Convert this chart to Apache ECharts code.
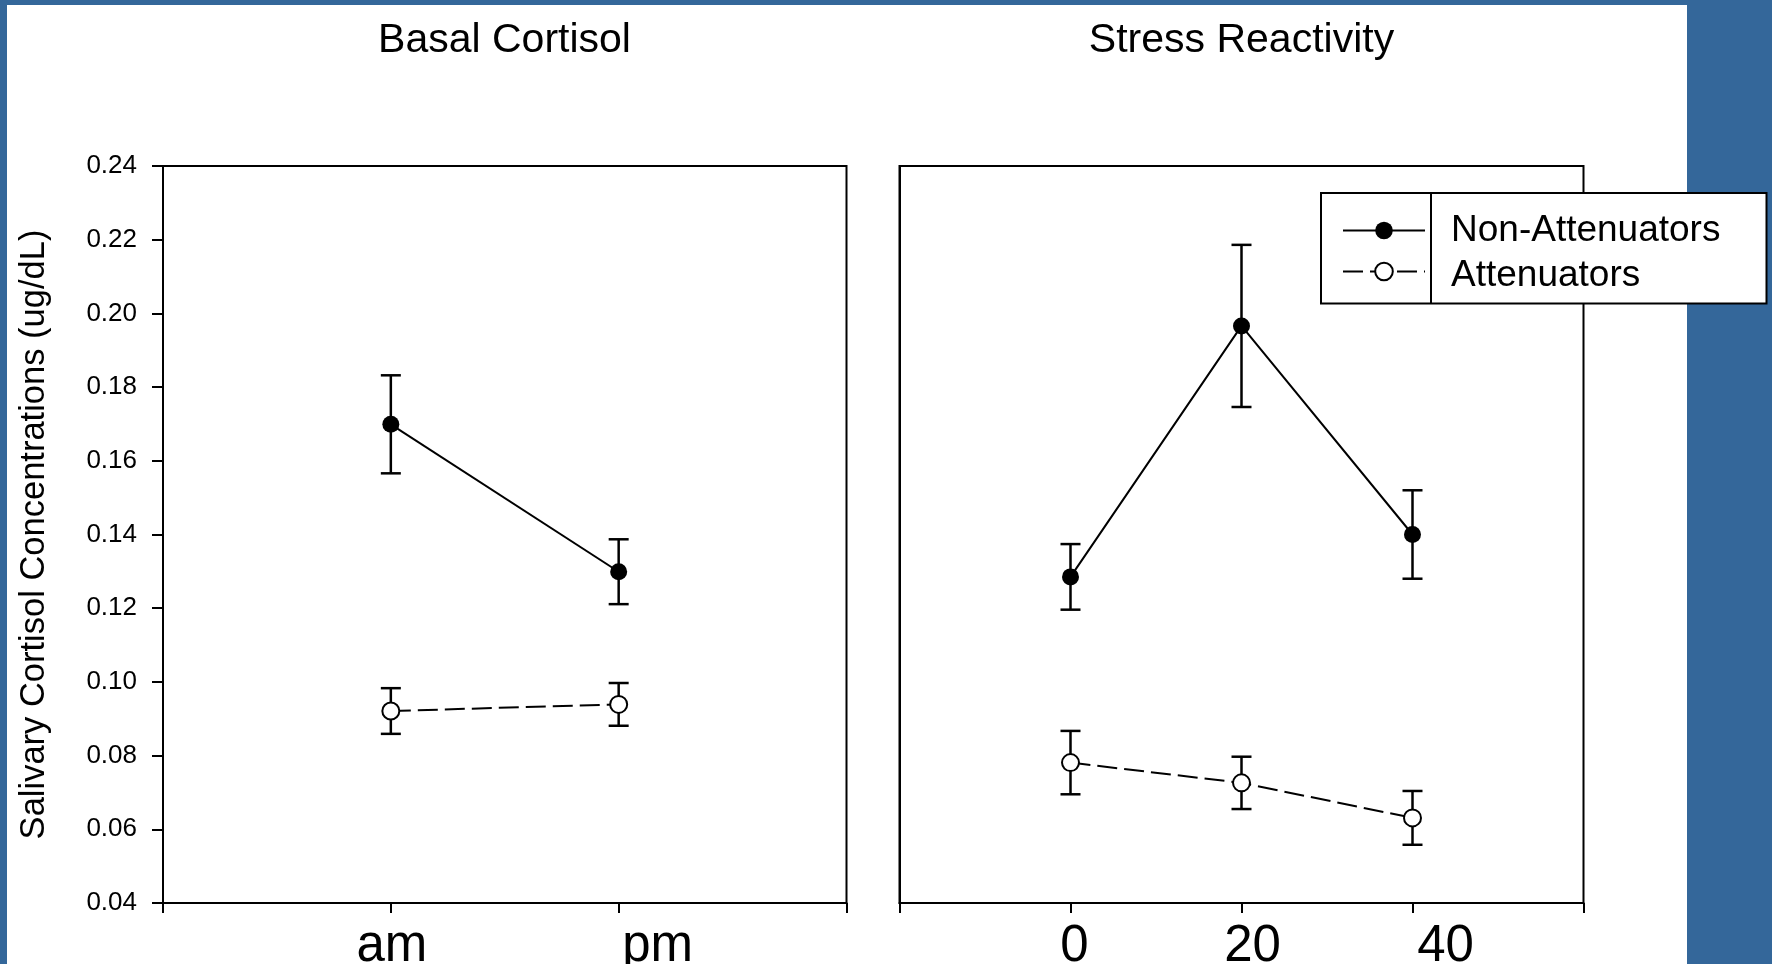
<!DOCTYPE html>
<html>
<head>
<meta charset="utf-8">
<script src="https://cdn.jsdelivr.net/npm/echarts@6/dist/echarts.min.js"></script>
<style>
  html, body { margin: 0; padding: 0; background: #34679A; overflow: hidden; }
  #chart { width: 1772px; height: 964px; }
</style>
</head>
<body>
<div id="chart"></div>
<script>
// ---- Data ----
const panelTitles = ['Basal Cortisol', 'Stress Reactivity'];
const seriesNames = ['Non-Attenuators', 'Attenuators'];
const yAxisTitle = 'Salivary Cortisol Concentrations (ug/dL)';

// Basal panel
const basalLabels = ['am', 'pm'];
const basalX = [1, 2];
const basalNonAtt = [0.1699, 0.1299];
const basalNonAttErr = [0.0133, 0.0088];
const basalAtt = [0.0921, 0.0939];
const basalAttErr = [0.0062, 0.0058];

// Stress panel
const stressTimes = [0, 20, 40];
const stressTickLabels = ['0', '20', '40'];
const stressNonAtt = [0.1285, 0.1966, 0.1400];
const stressNonAttErr = [0.0089, 0.0220, 0.0120];
const stressAtt = [0.0781, 0.0726, 0.0631];
const stressAttErr = [0.0086, 0.0071, 0.0073];

// Axis ranges
const yMin = 0.04, yMax = 0.24, yStep = 0.02;
const basalXMin = 0, basalXMax = 3;
const stressXMin = -20, stressXMax = 60, stressXStep = 20;

// ---- Styling (label offsets in px, as in the original figure) ----
const basalLabelShift = [1, 39];
const stressLabelShift = [4, 11, 33];
const FONT = 'Liberation Sans, Arial, sans-serif';
const XLABEL_SIZE = 51;

// ---- Helpers ----
const pts = (xs, ys) => xs.map((x, i) => [x, ys[i]]);
const errs = (xs, ys, es) => xs.map((x, i) => [x, ys[i] - es[i], ys[i] + es[i]]);

function shiftRich(shifts) {
  const r = {};
  shifts.forEach((s, i) => {
    r['s' + i] = { fontSize: XLABEL_SIZE, color: '#000', fontFamily: FONT, padding: [0, 0, 0, 2 * s] };
  });
  return r;
}

function renderErr(params, api) {
  const x = api.value(0), lo = api.value(1), hi = api.value(2);
  const a = api.coord([x, lo]), b = api.coord([x, hi]);
  const hw = 10;
  const style = { stroke: '#000', lineWidth: 2.5 };
  return {
    type: 'group',
    children: [
      { type: 'line', shape: { x1: a[0], y1: a[1], x2: b[0], y2: b[1] }, style },
      { type: 'line', shape: { x1: a[0] - hw, y1: a[1], x2: a[0] + hw, y2: a[1] }, style },
      { type: 'line', shape: { x1: b[0] - hw, y1: b[1], x2: b[0] + hw, y2: b[1] }, style }
    ]
  };
}

const axisLine = { show: true, onZero: false, lineStyle: { color: '#000', width: 2 } };

const filledLine = (name, data, xi) => ({
  name, type: 'line', xAxisIndex: xi, yAxisIndex: xi, data, z: 3,
  symbol: 'circle', symbolSize: 17,
  itemStyle: { color: '#000' },
  lineStyle: { color: '#000', width: 2 }
});
const openLine = (name, data, xi) => ({
  name, type: 'line', xAxisIndex: xi, yAxisIndex: xi, data, z: 3,
  symbol: 'circle', symbolSize: 17,
  itemStyle: { color: '#fff', borderColor: '#000', borderWidth: 2 },
  lineStyle: { color: '#000', width: 2, type: [20, 7] }
});
const errSeries = (data, xi) => ({
  type: 'custom', xAxisIndex: xi, yAxisIndex: xi, data, z: 2,
  renderItem: renderErr, encode: { x: 0, y: [1, 2] }, silent: true
});

const chart = echarts.init(document.getElementById('chart'), null, { renderer: 'canvas' });
const option = {
  animation: false,
  backgroundColor: 'transparent',
  textStyle: { fontFamily: FONT, color: '#000' },
  graphic: [
    { type: 'rect', shape: { x: 7, y: 5, width: 1680, height: 959 }, style: { fill: '#fff' }, z: -10, silent: true },
    { type: 'rect', shape: { x: 1321, y: 193, width: 445.5, height: 110.5 }, style: { fill: '#fff', stroke: '#000', lineWidth: 2 }, z: 3, silent: true },
    { type: 'line', shape: { x1: 1431, y1: 193, x2: 1431, y2: 303.5 }, style: { stroke: '#000', lineWidth: 2 }, z: 5, silent: true }
  ],
  title: [
    { text: panelTitles[0], left: 504.5, top: 20, textAlign: 'center', padding: 0,
      textStyle: { fontSize: 41, fontWeight: 'normal', color: '#000', fontFamily: FONT } },
    { text: panelTitles[1], left: 1241.5, top: 20, textAlign: 'center', padding: 0,
      textStyle: { fontSize: 41, fontWeight: 'normal', color: '#000', fontFamily: FONT } }
  ],
  legend: {
    data: seriesNames,
    orient: 'vertical',
    left: 1342, top: 212,
    padding: 0, itemGap: 0,
    itemWidth: 82, itemHeight: 22,
    selectedMode: false,
    z: 6,
    formatter: name => name === seriesNames[0] ? '{a|' + name + '}' : '{b|' + name + '}',
    textStyle: {
      fontSize: 37, color: '#000', fontFamily: FONT, padding: [0, 0, 0, 21],
      rich: {
        a: { fontSize: 37, fontFamily: FONT, color: '#000', lineHeight: 37 },
        b: { fontSize: 37, fontFamily: FONT, color: '#000', lineHeight: 29, padding: [8, 0, 0, 0] }
      }
    }
  },
  grid: [
    { left: 163, top: 166, right: 925.5, bottom: 61, show: true, borderColor: '#000', borderWidth: 2,
      containLabel: false, outerBoundsMode: 'none' },
    { left: 899.5, top: 166, right: 188.5, bottom: 61, show: true, borderColor: '#000', borderWidth: 2,
      containLabel: false, outerBoundsMode: 'none' }
  ],
  xAxis: [
    { type: 'value', gridIndex: 0, min: basalXMin, max: basalXMax, interval: 1,
      axisLine, splitLine: { show: false },
      axisTick: { show: true, length: 10, lineStyle: { color: '#000', width: 2 } },
      axisLabel: { margin: 18, fontSize: XLABEL_SIZE, color: '#000', fontFamily: FONT,
        rich: shiftRich(basalLabelShift),
        formatter: v => { const i = basalX.indexOf(v); return i >= 0 ? '{s' + i + '|' + basalLabels[i] + '}' : ''; } } },
    { type: 'value', gridIndex: 1, min: stressXMin, max: stressXMax, interval: stressXStep,
      axisLine, splitLine: { show: false },
      axisTick: { show: true, length: 10, lineStyle: { color: '#000', width: 2 } },
      axisLabel: { margin: 18, fontSize: XLABEL_SIZE, color: '#000', fontFamily: FONT,
        rich: shiftRich(stressLabelShift),
        formatter: v => { const i = stressTimes.indexOf(v); return i >= 0 ? '{s' + i + '|' + stressTickLabels[i] + '}' : ''; } } }
  ],
  yAxis: [
    { type: 'value', gridIndex: 0, min: yMin, max: yMax, interval: yStep,
      axisLine, splitLine: { show: false },
      axisTick: { show: true, length: 11, lineStyle: { color: '#000', width: 2 } },
      axisLabel: { margin: 26, fontSize: 26, color: '#000', fontFamily: FONT, formatter: v => v.toFixed(2) },
      name: yAxisTitle, nameLocation: 'middle', nameGap: 111,
      nameTextStyle: { fontSize: 34.5, color: '#000', fontFamily: FONT } },
    { type: 'value', gridIndex: 1, min: yMin, max: yMax, interval: yStep,
      axisLine, splitLine: { show: false },
      axisTick: { show: false }, axisLabel: { show: false } }
  ],
  series: [
    errSeries(errs(basalX, basalNonAtt, basalNonAttErr), 0),
    errSeries(errs(basalX, basalAtt, basalAttErr), 0),
    errSeries(errs(stressTimes, stressNonAtt, stressNonAttErr), 1),
    errSeries(errs(stressTimes, stressAtt, stressAttErr), 1),
    filledLine(seriesNames[0], pts(basalX, basalNonAtt), 0),
    openLine(seriesNames[1], pts(basalX, basalAtt), 0),
    filledLine(seriesNames[0], pts(stressTimes, stressNonAtt), 1),
    openLine(seriesNames[1], pts(stressTimes, stressAtt), 1)
  ]
};
chart.setOption(option);
</script>
</body>
</html>
